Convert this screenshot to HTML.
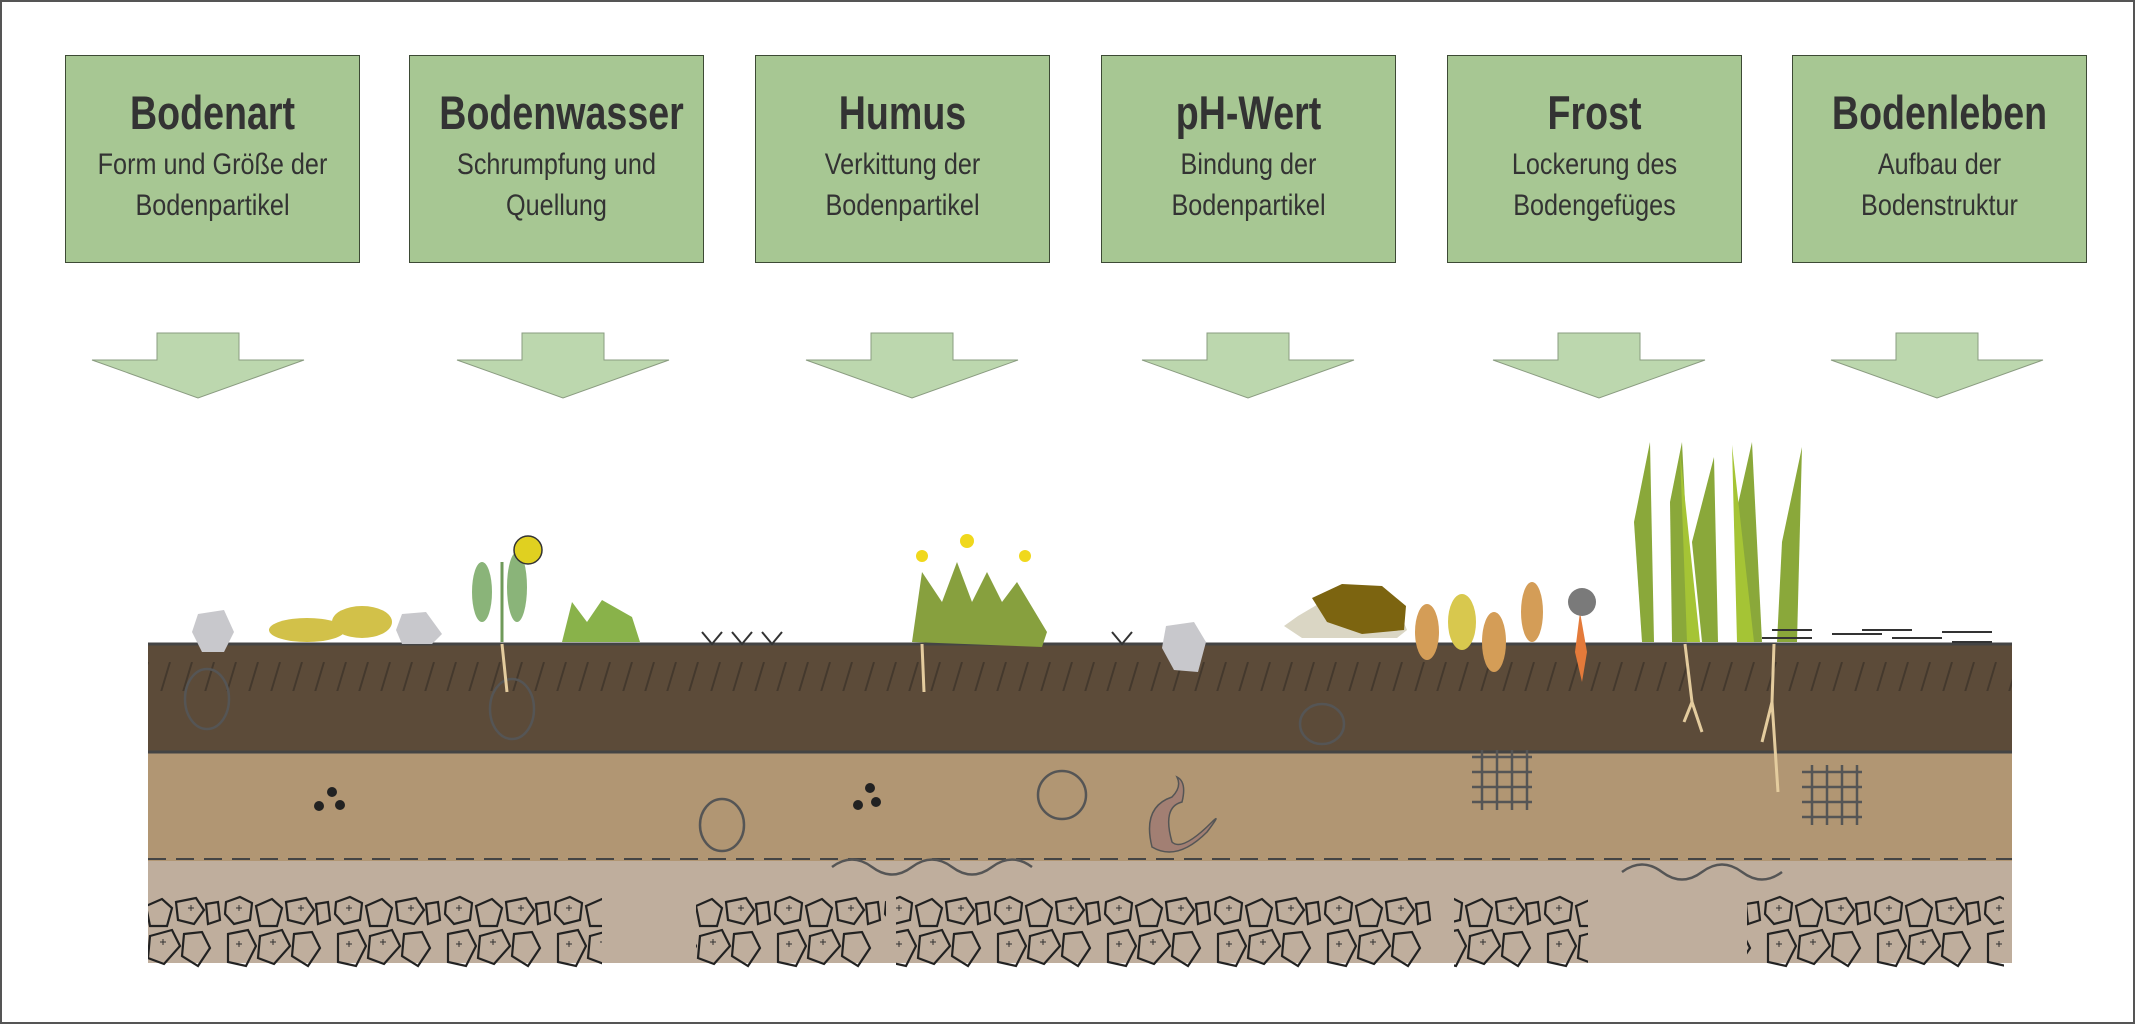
<!DOCTYPE html>
<html><head><meta charset="utf-8"><style>
html,body{margin:0;padding:0;background:#fff}
#w{position:relative;width:2135px;height:1024px;overflow:hidden;background:#fff;box-sizing:border-box;border:2px solid #555}
.b{position:absolute;top:53px;width:295px;height:208px;background:#a7c793;border:1.5px solid #3d4a35;box-sizing:border-box;text-align:center;color:#333;font-family:"Liberation Sans",sans-serif}
.b h{display:block;font-weight:bold;font-size:47px;margin-top:34px;line-height:46px;white-space:nowrap;transform:scaleX(.8)}
.b p{margin:8px 0 0;font-size:30px;line-height:41px;white-space:nowrap;transform:scaleX(.84)}
svg{position:absolute;left:0;top:0}
</style></head><body><div id="w">
<div class="b" style="left:63px"><h>Bodenart</h><p>Form und Größe der<br>Bodenpartikel</p></div>
<div class="b" style="left:407px"><h>Bodenwasser</h><p>Schrumpfung und<br>Quellung</p></div>
<div class="b" style="left:753px"><h>Humus</h><p>Verkittung der<br>Bodenpartikel</p></div>
<div class="b" style="left:1099px"><h>pH-Wert</h><p>Bindung der<br>Bodenpartikel</p></div>
<div class="b" style="left:1445px"><h>Frost</h><p>Lockerung des<br>Bodengefüges</p></div>
<div class="b" style="left:1790px"><h>Bodenleben</h><p>Aufbau der<br>Bodenstruktur</p></div>
<svg width="2135" height="1024" viewBox="0 0 2135 1024">
<defs>
<g id="ar"><polygon points="-41,0 41,0 41,27 106,27 0,65 -106,27 -41,27" fill="#bcd7ae" stroke="#8a9c80" stroke-width="1"/></g>
<pattern id="hat" width="22" height="60" patternUnits="userSpaceOnUse"><line x1="14" y1="0" x2="2" y2="40" stroke="#3e342a" stroke-width="2"/></pattern>
<pattern id="st" x="0" y="892" width="110" height="80" patternUnits="userSpaceOnUse">
<g fill="none" stroke="#222" stroke-width="2.2">
<path d="M4,8 L18,3 L30,9 L28,26 L12,30 L3,20Z"/><path d="M34,12 L50,5 L60,14 L55,32 L38,32Z"/>
<path d="M64,8 L84,4 L92,16 L82,30 L66,26Z"/><path d="M94,10 L106,8 L108,26 L96,30Z"/>
<path d="M6,40 L26,36 L34,52 L24,72 L6,68Z"/><path d="M38,42 L60,36 L68,52 L52,70 L36,64Z"/>
<path d="M72,40 L90,38 L98,54 L86,72 L70,62Z"/>
</g><g stroke="#333" stroke-width="1"><path d="M14,14h6M17,11v6M48,48h6M51,45v6M76,14h6M79,11v6M14,50h6M17,47v6"/></g></pattern>
</defs>
<use href="#ar" x="196" y="331"/><use href="#ar" x="561" y="331"/><use href="#ar" x="910" y="331"/>
<use href="#ar" x="1246" y="331"/><use href="#ar" x="1597" y="331"/><use href="#ar" x="1935" y="331"/>
<rect x="146" y="641" width="1864" height="109" fill="#5c4b39"/>
<rect x="146" y="641" width="1864" height="48" fill="url(#hat)" opacity=".8"/>
<rect x="146" y="750" width="1864" height="109" fill="#b19673"/>
<rect x="146" y="859" width="1864" height="102" fill="#bfae9d"/>
<line x1="146" y1="642" x2="2010" y2="642" stroke="#444" stroke-width="3"/>
<line x1="146" y1="750" x2="2010" y2="750" stroke="#444" stroke-width="3"/>
<line x1="146" y1="857" x2="2010" y2="857" stroke="#444" stroke-width="2" stroke-dasharray="18 10"/>
<g><rect x="146" y="892" width="454" height="75" fill="url(#st)"/><rect x="694" y="892" width="190" height="75" fill="url(#st)"/>
<rect x="894" y="892" width="536" height="75" fill="url(#st)"/><rect x="1452" y="892" width="134" height="75" fill="url(#st)"/>
<rect x="1745" y="892" width="257" height="75" fill="url(#st)"/></g>
<g fill="#222"><circle cx="330" cy="790" r="5"/><circle cx="317" cy="804" r="5"/><circle cx="338" cy="803" r="5"/>
<circle cx="868" cy="786" r="5"/><circle cx="856" cy="803" r="5"/><circle cx="874" cy="800" r="5"/></g>
<g fill="none" stroke="#555" stroke-width="2.5">
<ellipse cx="205" cy="697" rx="22" ry="30"/><ellipse cx="510" cy="707" rx="22" ry="30"/><ellipse cx="720" cy="823" rx="22" ry="26"/>
<ellipse cx="1060" cy="793" rx="24" ry="24"/><ellipse cx="1320" cy="722" rx="22" ry="20"/>
<path d="M1470,755h60M1470,770h60M1470,785h60M1470,800h60M1480,748v60M1495,748v60M1510,748v60M1525,748v60"/>
<path d="M1800,770h60M1800,785h60M1800,800h60M1800,815h60M1810,763v60M1825,763v60M1840,763v60M1855,763v60"/>
<path d="M1620,870q20,-15 40,0t40,0t40,0t40,0"/><path d="M830,865q20,-15 40,0t40,0t40,0t40,0t40,0"/>
</g>
<path d="M1150,845 q-10,-40 20,-50 q10,-10 5,-20 q10,5 5,25 q-20,5 -10,40 q10,10 40,-20 q10,-10 -5,10 q-30,30 -55,15z" fill="#a27f73" stroke="#555" stroke-width="1.5"/>
<path d="M196,612 L222,608 L232,630 L222,650 L200,650 L190,630Z" fill="#c8c8cc"/>
<path d="M400,612 L424,610 L440,632 L430,642 L400,642 L394,628Z" fill="#c8c8cc"/>
<path d="M1164,624 L1192,620 L1204,640 L1196,670 L1172,668 L1160,646Z" fill="#c8c8cc"/>
<ellipse cx="305" cy="628" rx="38" ry="12" fill="#d2c149"/><ellipse cx="360" cy="620" rx="30" ry="16" fill="#d2c149"/>
<path d="M500,640 L500,560" stroke="#6f9a5a" stroke-width="3"/><g fill="#8ab479"><ellipse cx="480" cy="590" rx="10" ry="30"/><ellipse cx="515" cy="585" rx="10" ry="35"/></g>
<circle cx="526" cy="548" r="14" fill="#e0d020" stroke="#333" stroke-width="1.5"/>
<path d="M560,640 L570,600 L585,620 L600,598 L630,615 L638,640Z" fill="#89b24a"/>
<path d="M910,640 L920,570 L940,600 L955,560 L970,600 L985,570 L1000,600 L1015,580 L1045,630 L1040,645Z" fill="#87a03e"/>
<g fill="#f0d81c"><circle cx="920" cy="554" r="6"/><circle cx="965" cy="539" r="7"/><circle cx="1023" cy="554" r="6"/></g>
<path d="M1296,614 L1330,594 L1365,590 L1395,604 L1405,628 L1395,636 L1300,636 L1282,624Z" fill="#dad6c4"/>
<path d="M1310,596 L1340,582 L1380,584 L1404,604 L1402,628 L1360,632 L1325,620Z" fill="#7c6410"/>
<g fill="#d49d57"><ellipse cx="1425" cy="630" rx="12" ry="28"/><ellipse cx="1492" cy="640" rx="12" ry="30"/><ellipse cx="1530" cy="610" rx="11" ry="30"/></g>
<ellipse cx="1460" cy="620" rx="14" ry="28" fill="#d8c84e"/>
<path d="M1578,610 L1573,650 L1580,680 L1585,650Z" fill="#e47a3a"/>
<circle cx="1580" cy="600" r="14" fill="#7a7a7a"/>
<g fill="#8aa83a"><path d="M1640,640 L1632,520 L1648,440 L1652,640Z"/><path d="M1670,640 L1668,500 L1680,440 L1690,640Z"/>
<path d="M1700,640 L1690,540 L1712,455 L1716,640Z"/><path d="M1740,640 L1732,520 L1750,440 L1760,640Z"/>
<path d="M1775,640 L1780,540 L1800,445 L1795,640Z"/></g>
<g fill="#a5c435"><path d="M1685,640 L1678,450 L1698,640Z"/><path d="M1735,640 L1730,443 L1752,640Z"/></g>
<g stroke="#e4cc9e" stroke-width="3" fill="none"><path d="M1683,642 L1690,700 L1682,720 M1690,700 L1700,730"/><path d="M1772,642 L1770,700 L1760,740 M1770,700 L1776,790"/><path d="M500,642 L505,690"/><path d="M920,642 L922,690"/></g>
<g stroke="#333" stroke-width="2" fill="none"><path d="M1760,636h50M1830,632h50M1890,636h50M1940,630h50M1770,628h40M1860,628h50M1950,640h40"/>
<path d="M700,630l10,12l10,-12M730,630l10,12l10,-12M760,630l10,12l10,-12M1110,630l10,12l10,-12"/></g>
</svg></div></body></html>
